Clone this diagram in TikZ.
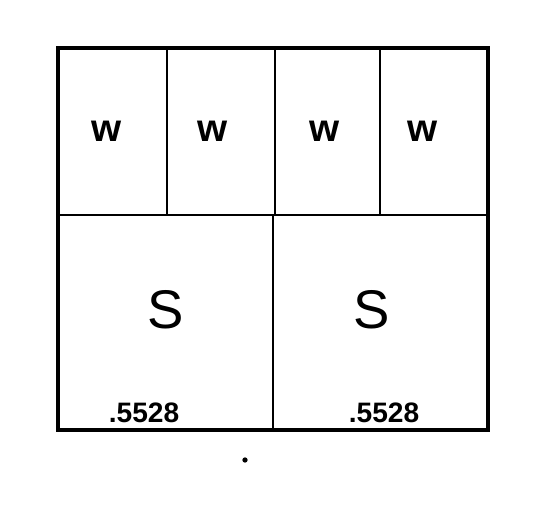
\documentclass[tikz,border=0pt]{standalone}
\usepackage{fontspec}
\setmainfont{Liberation Sans}
\usepackage{tikz}

\begin{document}
\begin{tikzpicture}[x=0.02cm,y=-0.02cm]
\tikzset{
	wall/.style={line width=2.4pt},
	part/.style={line width=1.4pt},
	wlabel/.style={font=\fontsize{22}{22}\selectfont\bfseries},
	slabel/.style={font=\fontsize{31}{31}\selectfont},
	nlabel/.style={font=\fontsize{16}{16}\selectfont\bfseries}
}
\useasboundingbox (0,0) rectangle (540,526);
% frame and dividers
\coordinate (nw) at (58,48);
\coordinate (se) at (488,430);
\draw[part] (58,215) -- (488,215);
\foreach \x in {167,275,380}{
	\draw[part] (\x,48) -- (\x,215);
}
\draw[part] (273,215) -- (273,430);
\draw[wall] (nw) rectangle (se);
% labels
\foreach \x/\n in {107/1,213/2,325/3,423/4}{
	\node[wlabel] (w\n) at (\x,131) {w};
}
\node[slabel] (s1) at (166,310) {S};
\node[slabel] (s2) at (372,310) {S};
\node[nlabel] (n1) at (144,413) {.5528};
\node[nlabel] (n2) at (384,413) {.5528};
\fill (245,460) circle (1.5pt);
\end{tikzpicture}
\end{document}
